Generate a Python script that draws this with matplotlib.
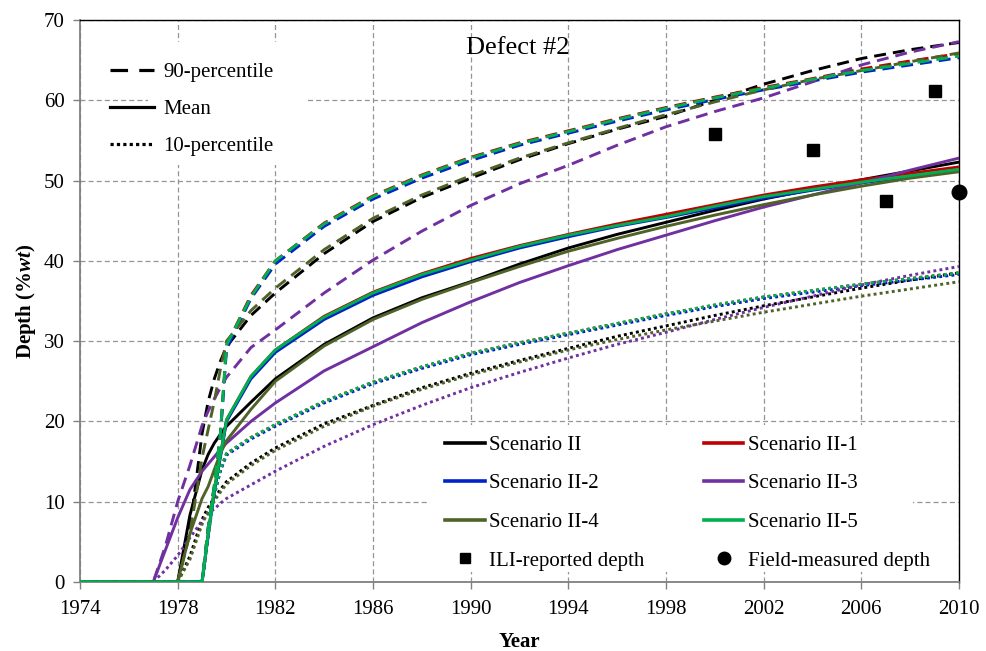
import matplotlib
matplotlib.use("Agg")
import matplotlib.pyplot as plt
from matplotlib.lines import Line2D
from matplotlib.patches import Rectangle

plt.rcParams['font.family'] = ['Liberation Serif', 'DejaVu Serif']
plt.rcParams['mathtext.fontset'] = 'custom'
plt.rcParams['mathtext.it'] = 'Liberation Serif:italic:bold'
plt.rcParams['mathtext.rm'] = 'Liberation Serif:bold'

# ---------------- data ----------------
years = [1974, 1977, 1977.5, 1978, 1978.5, 1979, 1979.25, 1979.5, 1979.75, 1980,
         1981, 1982, 1984, 1986, 1988, 1990, 1992, 1994, 1996, 1998, 2000, 2002,
         2004, 2006, 2008, 2010]

scenarios = ['Scenario II', 'Scenario II-1', 'Scenario II-2',
             'Scenario II-3', 'Scenario II-4', 'Scenario II-5']

mean_II  = [0, 0, 0, 0, 8.3, 14.0, 15.9, 17.3, 18.4, 19.4, 22.4, 25.3, 29.6, 32.9, 35.4, 37.4, 39.6, 41.6, 43.3, 44.8, 46.3, 47.7, 48.9, 50.1, 51.2, 52.3]
mean_II1 = [0, 0, 0, 0, 0, 0, 6.0, 11.5, 15.8, 20.2, 25.6, 28.9, 33.1, 36.1, 38.4, 40.3, 41.9, 43.3, 44.6, 45.8, 47.0, 48.2, 49.2, 50.1, 50.9, 51.7]
mean_II2 = [0, 0, 0, 0, 0, 0, 5.8, 11.2, 15.5, 20.0, 25.3, 28.6, 32.7, 35.7, 38.0, 39.9, 41.6, 43.0, 44.3, 45.4, 46.6, 47.8, 48.8, 49.7, 50.5, 51.3]
mean_II3 = [0, 0, 4.0, 8.0, 11.5, 13.8, 14.7, 15.6, 16.5, 17.3, 20.0, 22.3, 26.3, 29.3, 32.3, 34.9, 37.3, 39.4, 41.4, 43.2, 45.0, 46.7, 48.2, 49.7, 51.3, 52.8]
mean_II4 = [0, 0, 0, 0, 6.0, 10.4, 11.9, 14.0, 16.0, 17.6, 21.5, 25.0, 29.4, 32.7, 35.2, 37.3, 39.3, 41.2, 42.8, 44.3, 45.7, 47.0, 48.2, 49.3, 50.3, 51.1]
mean_II5 = [0, 0, 0, 0, 0, 0, 6.0, 11.5, 15.8, 20.2, 25.6, 28.9, 33.0, 36.0, 38.3, 40.1, 41.8, 43.2, 44.4, 45.5, 46.8, 48.0, 48.9, 49.8, 50.6, 51.4]

p90_II  = [0, 0, 0, 0, 6.5, 18.5, 22.5, 25.3, 27.5, 29.3, 33.2, 36.0, 40.9, 44.9, 47.9, 50.3, 52.6, 54.6, 56.4, 58.0, 60.0, 62.0, 63.7, 65.2, 66.3, 67.2]
p90_II1 = [0, 0, 0, 0, 0, 0, 6.8, 12.0, 18.5, 29.5, 35.7, 40.0, 44.7, 48.1, 50.7, 52.9, 54.7, 56.2, 57.7, 59.1, 60.4, 61.6, 62.7, 63.9, 64.9, 65.8]
p90_II2 = [0, 0, 0, 0, 0, 0, 6.6, 11.8, 18.2, 29.0, 35.3, 39.6, 44.3, 47.7, 50.3, 52.5, 54.4, 55.9, 57.4, 58.8, 60.1, 61.3, 62.4, 63.5, 64.4, 65.3]
p90_II3 = [0, 0, 4.5, 10.0, 14.5, 19.5, 21.3, 22.8, 24.2, 25.5, 29.2, 31.4, 36.0, 40.1, 43.7, 46.9, 49.6, 51.9, 54.4, 56.7, 58.6, 60.3, 62.3, 64.4, 66.0, 67.3]
p90_II4 = [0, 0, 0, 0, 6.0, 15.5, 19.0, 22.5, 26.5, 30.0, 33.8, 36.6, 41.4, 45.3, 48.2, 50.6, 52.8, 54.7, 56.5, 58.2, 59.8, 61.3, 62.6, 63.7, 64.8, 65.9]
p90_II5 = [0, 0, 0, 0, 0, 0, 6.8, 12.0, 18.5, 29.5, 35.5, 40.0, 44.6, 48.0, 50.6, 52.8, 54.6, 56.1, 57.6, 59.0, 60.3, 61.5, 62.6, 63.7, 64.6, 65.5]

p10_II  = [0, 0, 0, 0, 3.2, 7.8, 9.3, 10.5, 11.5, 12.5, 14.8, 16.7, 19.7, 22.0, 24.2, 26.0, 27.6, 29.1, 30.6, 31.9, 33.2, 34.4, 35.5, 36.6, 37.6, 38.5]
p10_II1 = [0, 0, 0, 0, 0, 0, 6.0, 11.0, 14.0, 16.0, 18.0, 19.6, 22.5, 24.9, 26.8, 28.5, 29.8, 31.0, 32.2, 33.4, 34.5, 35.5, 36.3, 37.1, 37.8, 38.5]
p10_II2 = [0, 0, 0, 0, 0, 0, 5.8, 10.8, 13.8, 15.8, 17.8, 19.4, 22.3, 24.7, 26.6, 28.3, 29.6, 30.8, 32.0, 33.2, 34.3, 35.3, 36.1, 36.9, 37.6, 38.3]
p10_II3 = [0, 0, 1.5, 3.3, 5.5, 7.6, 8.5, 9.1, 9.8, 10.4, 12.1, 13.8, 16.9, 19.6, 22.0, 24.2, 26.1, 27.9, 29.6, 31.1, 32.7, 34.2, 35.6, 37.0, 38.2, 39.3]
p10_II4 = [0, 0, 0, 0, 2.8, 7.2, 8.8, 10.1, 11.2, 12.2, 14.5, 16.4, 19.4, 21.9, 24.0, 25.8, 27.4, 28.9, 30.2, 31.4, 32.5, 33.6, 34.6, 35.6, 36.5, 37.4]
p10_II5 = [0, 0, 0, 0, 0, 0, 6.0, 11.0, 14.0, 16.0, 18.0, 19.6, 22.5, 24.9, 26.8, 28.5, 29.8, 31.0, 32.2, 33.4, 34.5, 35.5, 36.3, 37.1, 37.8, 38.5]

ili_years = [2000, 2004, 2007, 2009]
ili_depth = [55.8, 53.8, 47.5, 61.1]
field_years = [2010]
field_depth = [48.6]

x_ticks = [1974, 1978, 1982, 1986, 1990, 1994, 1998, 2002, 2006, 2010]
y_ticks = [0, 10, 20, 30, 40, 50, 60, 70]

# ---------------- styling ----------------
colors = ['#000000', '#c00000', '#0022c8', '#7030a0', '#4f6228', '#00b050']
means = [mean_II, mean_II1, mean_II2, mean_II3, mean_II4, mean_II5]
p90s = [p90_II, p90_II1, p90_II2, p90_II3, p90_II4, p90_II5]
p10s = [p10_II, p10_II1, p10_II2, p10_II3, p10_II4, p10_II5]

LW = 2.1
DASH = (0, (4.1, 2.4))
DOT = (0, (1.0, 1.1))
FS = 15

fig = plt.figure(figsize=(9.86, 6.51), dpi=100)
ax = fig.add_axes([80/986, 69/651, 879/986, 562/651])

ax.set_axisbelow(True)
ax.grid(True, color='#949494', linestyle=(0, (4, 2.5)), linewidth=0.9)

# white areas behind legends (hide grid)
ax.add_patch(Rectangle(((148-80)/879, (582-165)/562), (307-148)/879, (165-42)/562,
                       transform=ax.transAxes, facecolor='white', edgecolor='none', zorder=1))
ax.add_patch(Rectangle(((430-80)/879, (582-572)/562), (913-430)/879, (572-425)/562,
                       transform=ax.transAxes, facecolor='white', edgecolor='none', zorder=1))

z = 2
for c, m, hi, lo in zip(colors, means, p90s, p10s):
    ax.plot(years, hi, color=c, lw=LW, linestyle=DASH, zorder=z)
    ax.plot(years, m, color=c, lw=LW, linestyle='-', zorder=z + 0.1)
    ax.plot(years, lo, color=c, lw=LW, linestyle=DOT, zorder=z + 0.2)
    z += 1

ax.plot(ili_years, ili_depth, linestyle='none', marker='s', markersize=9,
        color='black', zorder=20)
ax.plot(field_years, field_depth, linestyle='none', marker='o', markersize=10.5,
        color='black', zorder=20, clip_on=False)

ax.set_xlim(1974, 2010)
ax.set_ylim(0, 70)
ax.set_xticks(x_ticks)
ax.set_yticks(y_ticks)
ax.tick_params(axis='both', labelsize=FS, direction='out', length=5,
               color='#808080', width=1.0)
ax.tick_params(axis='y', pad=6)
ax.tick_params(axis='x', pad=8)

for s in ['left', 'bottom']:
    ax.spines[s].set_color('#808080')
    ax.spines[s].set_linewidth(1.3)
for s in ['top', 'right']:
    ax.spines[s].set_color('#000000')
    ax.spines[s].set_linewidth(1.0)

ax.set_xlabel('Year', fontsize=FS, fontweight='bold', labelpad=9)
ax.set_ylabel('Depth (%$wt$)', fontsize=FS, fontweight='bold', labelpad=4)

ax.text(0.498, 0.950, 'Defect #2', transform=ax.transAxes, fontsize=19,
        ha='center', va='center')

# legend 1: line styles
h1 = [Line2D([], [], color='black', lw=2.3, linestyle=(0, (5.5, 3.5))),
      Line2D([], [], color='black', lw=2.3, linestyle='-'),
      Line2D([], [], color='black', lw=2.3, linestyle=(0, (1.0, 1.0)))]
leg1 = ax.legend(h1, ['90-percentile', 'Mean', '10-percentile'], loc='upper left',
                 bbox_to_anchor=((102-80)/879, (582-54)/562), borderaxespad=0,
                 frameon=False, fontsize=FS, handlelength=2.1, handletextpad=0.45,
                 labelspacing=0.84, borderpad=0.4)
ax.add_artist(leg1)

# legend 2: scenarios
hs = [Line2D([], [], color=c, lw=2.6) for c in colors]
hili = Line2D([], [], linestyle='none', marker='s', markersize=7, color='black')
hfld = Line2D([], [], linestyle='none', marker='o', markersize=9, color='black')
handles = [hs[0], hs[2], hs[4], hili, hs[1], hs[3], hs[5], hfld]
labels = [scenarios[0], scenarios[2], scenarios[4], 'ILI-reported depth',
          scenarios[1], scenarios[3], scenarios[5], 'Field-measured depth']
leg2 = ax.legend(handles, labels, loc='upper left', ncol=2,
                 bbox_to_anchor=((437-80)/879, (582-427)/562), borderaxespad=0,
                 frameon=False, fontsize=FS, handlelength=1.9, handletextpad=0.2,
                 labelspacing=0.91, columnspacing=2.85, borderpad=0.4)

fig.savefig('out.png', dpi=100)
